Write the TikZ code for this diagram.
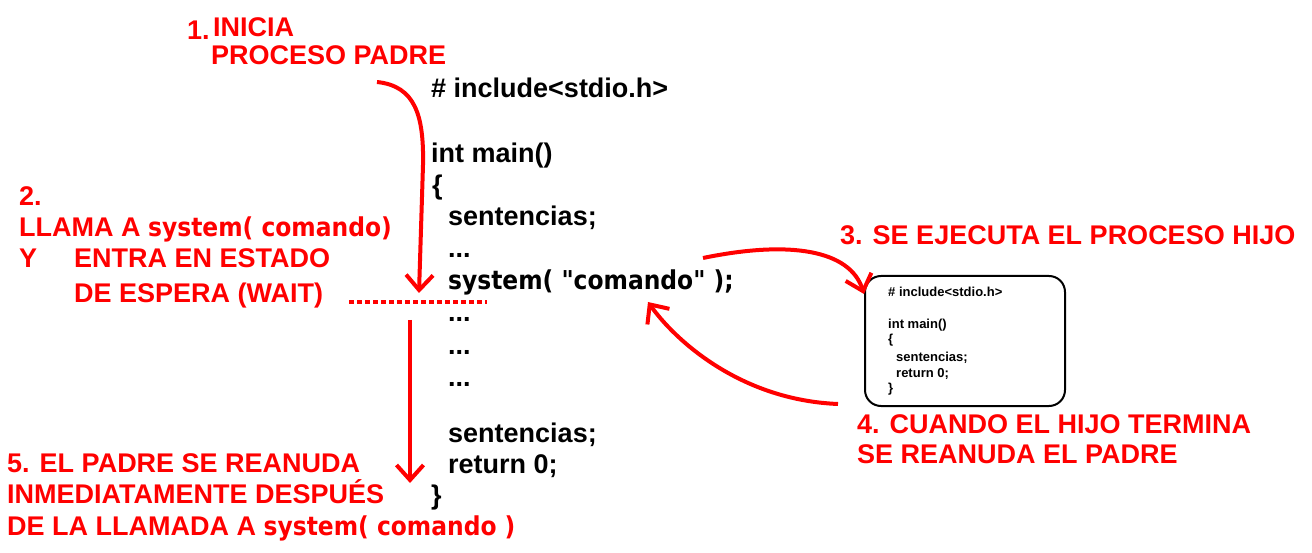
\documentclass[tikz,border=0pt]{standalone}
\usepackage{fontspec}
\setmainfont{Liberation Sans}
\newfontfamily\tahfam{DejaVu Sans Condensed}
\newcommand\tah{\tahfam\fontsize{26}{28}\selectfont}
\usetikzlibrary{arrows.meta}
\tikzset{
  rtxt/.style={anchor=base west, inner sep=0pt, text=red, font=\bfseries\fontsize{27}{28}\selectfont},
  ctxt/.style={anchor=base west, inner sep=0pt, text=black, font=\bfseries\fontsize{27}{28}\selectfont},
  stxt/.style={anchor=base west, inner sep=0pt, text=black, font=\bfseries\fontsize{13}{15}\selectfont},
  rarrow/.style={draw=red, line width=4pt, -{Straight Barb[length=15pt,width=27pt]}},
  hijobox/.style={draw=black, line width=2pt, rounded corners=16pt, minimum width=200pt, minimum height=130pt, inner sep=0pt},
}
\begin{document}
\begin{tikzpicture}[x=1pt,y=-1pt]
\useasboundingbox (0,0) rectangle (1312,553);
\fill[white] (0,0) rectangle (1312,553);

% red labels
\node[rtxt] (n1) at (187,40) {1.};
\node[rtxt] (inicia) at (213,37) {INICIA};
\node[rtxt] (padre) at (211,65) {PROCESO PADRE};
\node[rtxt] (n2) at (19,206) {2.};
\node[rtxt] (llama) at (19,237) {LLAMA A {\tah system( comando)}};
\node[rtxt] (y) at (19,268) {Y};
\node[rtxt] (entra) at (74,268) {ENTRA EN ESTADO};
\node[rtxt] (espera) at (74,303) {DE ESPERA (WAIT)};
\node[rtxt] (l3) at (840,245) {3. SE EJECUTA EL PROCESO HIJO};
\node[rtxt] (l4a) at (857,433) {4. CUANDO EL HIJO TERMINA};
\node[rtxt] (l4b) at (857,463) {SE REANUDA EL PADRE};
\node[rtxt] (l5a) at (7,472) {5. EL PADRE SE REANUDA};
\node[rtxt] (l5b) at (7,503) {INMEDIATAMENTE DESPUÉS};
\node[rtxt] (l5c) at (7,535) {DE LA LLAMADA A {\tah system( comando )}};

% parent code
\node[ctxt] (c1) at (431,98) {\# include<stdio.h>};
\node[ctxt] (c2) at (431,163) {int main()};
\node[ctxt] (c3) at (432,195) {\{};
\node[ctxt] (c4) at (448,226) {sentencias;};
\node[ctxt] (c5) at (448,258) {...};
\node[ctxt] (sys) at (448,290) {\tah system( "comando" );};
\node[ctxt] (c7) at (448,322) {...};
\node[ctxt] (c8) at (448,354) {...};
\node[ctxt] (c9) at (448,386) {...};
\node[ctxt] (c10) at (448,442) {sentencias;};
\node[ctxt] (c11) at (448,473) {return 0;};
\node[ctxt] (c12) at (431,504) {\}};

% child box
\node[hijobox] (hijo) at (965,341) {};
\node[stxt] (h1) at (888,297) {\# include<stdio.h>};
\node[stxt] (h2) at (888,328) {int main()};
\node[stxt] (h3) at (888,344) {\{};
\node[stxt] (h4) at (896,361) {sentencias;};
\node[stxt] (h5) at (896,377) {return 0;};
\node[stxt] (h6) at (888,392) {\}};

% coordinates for connectors
\coordinate (a1s) at (377,82);
\coordinate (a1e) at (419,293);
\coordinate (a2s) at (410,320);
\coordinate (a2e) at (410,483);
\coordinate (a3s) at (703,258);
\coordinate (a3e) at ([yshift=-19pt]hijo.north west);
\coordinate (a4s) at (838,404);
\coordinate (a4e) at (648,302);
\coordinate (d1) at (349,302);
\coordinate (d2) at (487,302);

% wait line
\draw[red, line width=4pt, dash pattern=on 5pt off 3pt] (d1) -- (d2);

% arrows
\draw[rarrow] (a1s) .. controls (415,86) and (424,115) .. (423,165) -- (a1e);
\draw[rarrow] (a2s) -- (a2e);
\draw[rarrow] (a3s) .. controls (790,240) and (850,250) .. (a3e);
\draw[rarrow] (a4s) .. controls (740,400) and (675,340) .. (a4e);
\end{tikzpicture}
\end{document}
